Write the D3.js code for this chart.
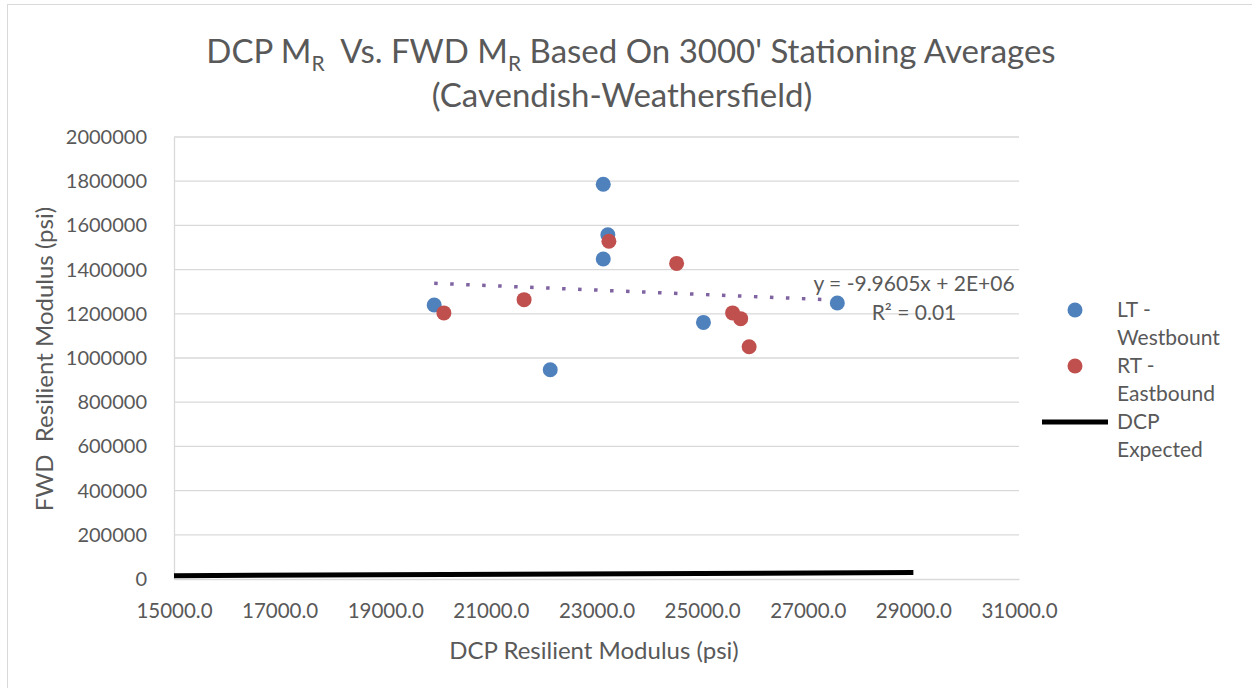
<!DOCTYPE html>
<html>
<head>
<meta charset="utf-8">
<script src="https://cdn.jsdelivr.net/npm/d3@7"></script>
<style>
  body { margin: 0; background: #fff; }
  text { font-family: Lato, "Open Sans", sans-serif; fill: #595959; }
</style>
</head>
<body>
<div id="chart"></div>
<script>
// LT - Westbount points (DCP psi, FWD psi)
const ltX = [19927, 22124, 23128, 23128, 23215, 25025, 27560];
const ltY = [1240000, 947000, 1786000, 1448000, 1558000, 1161000, 1249000];
// RT - Eastbound points
const rtX = [20110, 21629, 23235, 24517, 25577, 25730, 25890];
const rtY = [1204000, 1264000, 1528000, 1428000, 1204000, 1178000, 1051000];
// DCP Expected line (FWD = DCP)
const expX = [15000, 29000];
const expY = [15000, 29000];
// linear trendline as shown
const trendSlope = -9.9605;
const trendIntercept = 1536500;
const trendRange = [19927, 27560];

const xTicks = [15000, 17000, 19000, 21000, 23000, 25000, 27000, 29000, 31000];
const yTicks = [0, 200000, 400000, 600000, 800000, 1000000, 1200000, 1400000, 1600000, 1800000, 2000000];

const W = 1252, H = 688;
const margin = {top: 137, right: 237, bottom: 109, left: 174};

const svg = d3.select("#chart").append("svg")
    .attr("width", W)
    .attr("height", H);

// chart border
svg.append("rect")
    .attr("x", 7.5).attr("y", 4.5)
    .attr("width", W + 10).attr("height", H + 10)
    .attr("fill", "none")
    .attr("stroke", "#d9d9d9");

const x = d3.scaleLinear().domain([15000, 31000]).range([margin.left, W - margin.right + 4]);
const y = d3.scaleLinear().domain([0, 2000000]).range([H - margin.bottom, margin.top]);

// gridlines
svg.append("g")
    .selectAll("line")
    .data(yTicks.slice(1))
    .enter().append("line")
    .attr("x1", x(15000)).attr("x2", x(31000))
    .attr("y1", d => y(d)).attr("y2", d => y(d))
    .attr("stroke", "#d9d9d9").attr("stroke-width", 1.3);

// y axis
const yAxis = svg.append("g")
    .attr("transform", "translate(" + x(15000) + ",0)")
    .call(d3.axisLeft(y).tickValues(yTicks).tickSize(0).tickPadding(27).tickFormat(d3.format("d")));
yAxis.select(".domain").attr("stroke", "#d9d9d9").attr("stroke-width", 1.3);
yAxis.selectAll("text").attr("font-size", 20).attr("font-family", "Lato").attr("fill", "#595959");

// x axis
const xAxis = svg.append("g")
    .attr("transform", "translate(0," + y(0) + ")")
    .call(d3.axisBottom(x).tickValues(xTicks).tickSize(0).tickPadding(24).tickFormat(d3.format(".1f")));
xAxis.select(".domain").attr("stroke", "#d9d9d9").attr("stroke-width", 1.3);
xAxis.selectAll("text").attr("font-size", 20.5).attr("font-family", "Lato").attr("fill", "#595959");

// DCP expected line
const expData = expX.map((d, i) => ({x: d, y: expY[i]}));
svg.append("path")
    .datum(expData)
    .attr("fill", "none")
    .attr("stroke", "#000")
    .attr("stroke-width", 5)
    .attr("d", d3.line().x(d => x(d.x)).y(d => y(d.y)));

// trendline
const trendData = trendRange.map(v => ({x: v, y: trendSlope * v + trendIntercept}));
svg.append("path")
    .datum(trendData)
    .attr("fill", "none")
    .attr("stroke", "#8064a2")
    .attr("stroke-width", 3.5)
    .attr("stroke-dasharray", "3.5 12.5")
    .attr("d", d3.line().x(d => x(d.x)).y(d => y(d.y)));

// points
const lt = ltX.map((d, i) => ({x: d, y: ltY[i]}));
const rt = rtX.map((d, i) => ({x: d, y: rtY[i]}));

svg.append("g").selectAll("circle")
    .data(lt).enter().append("circle")
    .attr("cx", d => x(d.x)).attr("cy", d => y(d.y))
    .attr("r", 7.5).attr("fill", "#4f81bd");

svg.append("g").selectAll("circle")
    .data(rt).enter().append("circle")
    .attr("cx", d => x(d.x)).attr("cy", d => y(d.y))
    .attr("r", 7.5).attr("fill", "#c0504d");

// trendline label
svg.append("text")
    .attr("x", 914).attr("y", 291)
    .attr("text-anchor", "middle").attr("font-size", 21)
    .text("y = -9.9605x + 2E+06");
svg.append("text")
    .attr("x", 914).attr("y", 320)
    .attr("text-anchor", "middle").attr("font-size", 21)
    .text("R² = 0.01");

// title
const title = svg.append("text")
    .attr("x", 631).attr("y", 63)
    .attr("text-anchor", "middle")
    .attr("font-size", 33);
title.append("tspan").text("DCP M");
title.append("tspan").attr("font-size", 21).attr("dy", 8).text("R");
title.append("tspan").attr("dy", -8).text("\u00a0 Vs. FWD M");
title.append("tspan").attr("font-size", 21).attr("dy", 8).text("R");
title.append("tspan").attr("dy", -8).text(" Based On 3000' Stationing Averages");
svg.append("text")
    .attr("x", 622).attr("y", 107)
    .attr("text-anchor", "middle")
    .attr("font-size", 33)
    .text("(Cavendish-Weathersfield)");

// axis titles
svg.append("text")
    .attr("x", 594).attr("y", 659)
    .attr("text-anchor", "middle").attr("font-size", 24)
    .text("DCP Resilient Modulus (psi)");
svg.append("text")
    .attr("transform", "translate(53,359) rotate(-90)")
    .attr("text-anchor", "middle").attr("font-size", 24)
    .text("FWD \u00a0Resilient Modulus (psi)");

// legend
const legend = svg.append("g");
const legendItems = [
    {type: "dot", color: "#4f81bd", lines: ["LT -", "Westbount"], y: 310},
    {type: "dot", color: "#c0504d", lines: ["RT -", "Eastbound"], y: 366},
    {type: "line", color: "#000", lines: ["DCP", "Expected"], y: 422}
];
legendItems.forEach(function(d) {
    if (d.type === "dot") {
        legend.append("circle").attr("cx", 1075).attr("cy", d.y).attr("r", 7.5).attr("fill", d.color);
    } else {
        legend.append("line").attr("x1", 1042).attr("x2", 1108)
            .attr("y1", d.y).attr("y2", d.y)
            .attr("stroke", d.color).attr("stroke-width", 5);
    }
    d.lines.forEach(function(t, i) {
        legend.append("text")
            .attr("x", 1117).attr("y", d.y + 7 + i * 28)
            .attr("font-size", 21)
            .text(t);
    });
});
</script>
</body>
</html>
